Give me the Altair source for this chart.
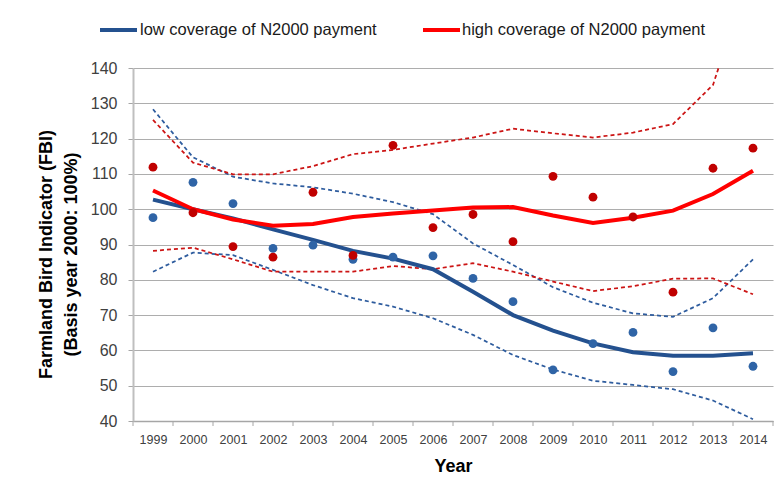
import altair as alt
import pandas as pd

years = list(range(1999, 2015))
tick_bounds = [y - 0.5 for y in range(1999, 2016)]

low_points = [97.6, 107.6, 101.6, 88.9, 89.8, 85.8, 86.4, 86.8, 80.4, 73.8, 54.5, 61.9, 65.1, 54.0, 66.4, 55.5]
high_points = [111.9, 99.0, 89.4, 86.4, 104.8, 86.9, 118.1, 94.8, 98.5, 90.8, 109.3, 103.4, 97.8, 76.5, 111.6, 117.3]
low_trend = [102.7, 100.0, 97.4, 94.3, 91.3, 88.2, 86.0, 83.0, 76.6, 70.0, 65.6, 62.0, 59.5, 58.5, 58.5, 59.2]
high_trend = [105.3, 100.0, 97.1, 95.3, 95.8, 97.8, 98.8, 99.6, 100.5, 100.6, 98.2, 96.1, 97.6, 99.6, 104.3, 110.9]
low_upper = [128.3, 114.7, 109.2, 107.3, 106.2, 104.4, 102.0, 98.6, 90.3, 84.2, 77.9, 73.5, 70.5, 69.5, 74.8, 85.8]
low_lower = [82.3, 87.7, 87.0, 82.8, 78.5, 74.8, 72.4, 69.1, 64.4, 58.7, 54.6, 51.4, 50.2, 49.0, 45.8, 40.5]
high_upper = [125.3, 113.2, 109.9, 109.9, 112.2, 115.6, 116.8, 118.6, 120.3, 122.8, 121.5, 120.3, 121.7, 124.1, 135.2, 170.0]
high_lower = [88.2, 89.1, 85.8, 82.3, 82.3, 82.3, 83.9, 83.0, 84.7, 82.3, 79.5, 76.8, 78.2, 80.3, 80.4, 75.9]

legend_labels = ["low coverage of N2000 payment", "high coverage of N2000 payment"]

BLUE_LINE = "#24518F"
BLUE_DOT = "#2F64A6"
BLUE_DASH = "#2E5C9E"
RED_LINE = "#FF0000"
RED_DOT = "#C00000"
RED_DASH = "#CC1414"

FONT = "Liberation Sans"


def frame(vals):
    return pd.DataFrame({"year": years, "value": vals})


x_enc = alt.X(
    "year:Q",
    scale=alt.Scale(domain=[1998.5, 2014.5], nice=False, zero=False),
    axis=alt.Axis(
        values=years,
        format="d",
        tickSize=0,
        grid=False,
        labelFont=FONT,
        labelFontSize=12.5,
        labelColor="#404040",
        labelPadding=12,
        domainColor="#A6A6A6",
        domainWidth=1.5,
        title="Year",
        titleFont=FONT,
        titleFontSize=18,
        titleFontWeight="bold",
        titleColor="#000000",
        titlePadding=12,
    ),
)

y_enc = alt.Y(
    "value:Q",
    scale=alt.Scale(domain=[40, 140], nice=False, zero=False),
    axis=alt.Axis(
        values=list(range(40, 150, 10)),
        grid=True,
        gridColor="#ADADAD",
        gridWidth=1,
        tickSize=5,
        tickColor="#A6A6A6",
        domainColor="#BFBFBF",
        domainWidth=2,
        labelFont=FONT,
        labelFontSize=16,
        labelColor="#404040",
        labelPadding=11,
        title=["Farmland Bird Indicator (FBI)", "(Basis year 2000:  100%)"],
        titleFont=FONT,
        titleFontSize=18,
        titleFontWeight="bold",
        titleColor="#000000",
        titleLineHeight=25,
        titleAngle=-90,
        titleAlign="center",
        titleBaseline="middle",
        titleX=-87,
        titleY=186,
    ),
)


def dashed(vals, color):
    return alt.Chart(frame(vals)).mark_line(
        color=color, strokeWidth=1.75, strokeDash=[4, 3], clip=True
    ).encode(x=x_enc, y=y_enc)


def trend(vals, color):
    return alt.Chart(frame(vals)).mark_line(
        color=color, strokeWidth=4, clip=True
    ).encode(x=x_enc, y=y_enc)


def dots(vals, color):
    return alt.Chart(frame(vals)).mark_circle(
        color=color, size=78, opacity=1
    ).encode(x=x_enc, y=y_enc)


ticks = alt.Chart(pd.DataFrame({"year": tick_bounds})).mark_rule(
    color="#A6A6A6", strokeWidth=1
).encode(
    x=x_enc,
    y=alt.value(353),
    y2=alt.value(358),
)

leg_low_line = alt.Chart(pd.DataFrame({"l": [legend_labels[0]]})).mark_rule(
    color=BLUE_LINE, strokeWidth=4
).encode(x=alt.value(-33), x2=alt.value(4), y=alt.value(-38))
leg_low_text = alt.Chart(pd.DataFrame({"l": [legend_labels[0]]})).mark_text(
    align="left", baseline="middle", font=FONT, fontSize=16.5, color="#1A1A1A"
).encode(x=alt.value(7), y=alt.value(-38), text="l:N")

leg_high_line = alt.Chart(pd.DataFrame({"l": [legend_labels[1]]})).mark_rule(
    color=RED_LINE, strokeWidth=4
).encode(x=alt.value(290), x2=alt.value(327), y=alt.value(-38))
leg_high_text = alt.Chart(pd.DataFrame({"l": [legend_labels[1]]})).mark_text(
    align="left", baseline="middle", font=FONT, fontSize=16.5, color="#1A1A1A"
).encode(x=alt.value(329), y=alt.value(-38), text="l:N")

chart = alt.layer(
    dashed(low_upper, BLUE_DASH),
    dashed(low_lower, BLUE_DASH),
    dashed(high_upper, RED_DASH),
    dashed(high_lower, RED_DASH),
    trend(low_trend, BLUE_LINE),
    trend(high_trend, RED_LINE),
    dots(low_points, BLUE_DOT),
    dots(high_points, RED_DOT),
    ticks,
    leg_low_line,
    leg_low_text,
    leg_high_line,
    leg_high_text,
).properties(
    width=640,
    height=353,
    autosize=alt.AutoSizeParams(type="none"),
    padding={"left": 125, "top": 60, "right": 2, "bottom": 70},
    background="white",
).configure_view(stroke=None)

chart.save("out.html", embed_options={"renderer": "svg", "actions": False})
